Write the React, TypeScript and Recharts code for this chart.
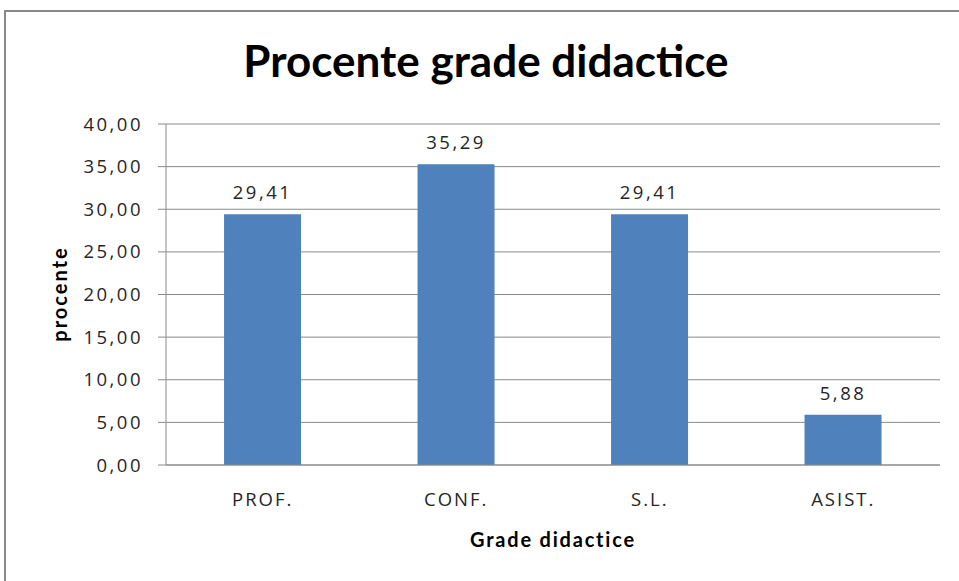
import React from 'react';
import { BarChart, Bar, XAxis, YAxis, CartesianGrid, LabelList } from 'recharts';

const categories = ['PROF.', 'CONF.', 'S.L.', 'ASIST.'];
const values = [29.41, 35.29, 29.41, 5.88];
const yTicks = [0, 5, 10, 15, 20, 25, 30, 35, 40];

const data = categories.map((name, i) => ({ name, value: values[i] }));
const fmt = (v: number) => Number(v).toFixed(2).replace('.', ',');

const FONT = 'Lato, "Open Sans", sans-serif';
const FONT_REG = '"Open Sans", Lato, sans-serif';
const TEXT = '#262626';
const LINE = '#8a8a8a';

export default function App() {
  return (
    <div style={{ position: 'fixed', left: 0, top: 0, width: 959, height: 581, overflow: 'hidden', background: '#fff' }}>
      <div
        style={{
          position: 'absolute',
          left: 4,
          top: 10,
          width: 1000,
          height: 1000,
          border: '2px solid #888',
          boxSizing: 'border-box',
        }}
      />
      <div style={{ position: 'absolute', left: 0, top: 0 }}>
        <BarChart
          width={959}
          height={581}
          data={data}
          margin={{ top: 124, right: 19, left: 0, bottom: 0 }}
          barCategoryGap="30%"
        >
          <text
            x={486}
            y={77}
            textAnchor="middle"
            style={{ fontFamily: FONT, fontWeight: 700, fontSize: 44, fill: '#000' }}
          >
            Procente grade didactice
          </text>
          <CartesianGrid vertical={false} stroke={LINE} strokeWidth={1} />
          <XAxis
            dataKey="name"
            height={116}
            tickLine={false}
            tickSize={0}
            tickMargin={28}
            axisLine={{ stroke: LINE }}
            tick={{ fill: TEXT, fontFamily: FONT_REG, fontSize: 18.5, letterSpacing: 2 }}
            label={{
              value: 'Grade didactice',
              position: 'insideBottom',
              offset: 34,
              fill: '#000',
              style: { fontFamily: FONT, fontWeight: 700, fontSize: 20, letterSpacing: 1.8, fill: '#000' },
            }}
          />
          <YAxis
            width={166}
            domain={[0, 40]}
            ticks={yTicks}
            tickFormatter={fmt}
            tickSize={8}
            tickMargin={15}
            axisLine={{ stroke: LINE }}
            tickLine={{ stroke: LINE }}
            tick={{ fill: TEXT, fontFamily: FONT_REG, fontSize: 18.5, letterSpacing: 2.5 }}
            label={{
              content: () => (
                <text
                  x={59}
                  y={294}
                  transform="rotate(-90 59 294)"
                  textAnchor="middle"
                  dominantBaseline="central"
                  style={{ fontFamily: FONT, fontWeight: 700, fontSize: 20, letterSpacing: 2, fill: '#000' }}
                >
                  procente
                </text>
              ),
            }}
          />
          <Bar dataKey="value" fill="#4F81BD" isAnimationActive={false}>
            <LabelList
              dataKey="value"
              position="top"
              offset={15}
              formatter={(v: any) => fmt(v)}
              style={{ fontFamily: FONT_REG, fontSize: 18.5, letterSpacing: 2.5, fill: TEXT }}
            />
          </Bar>
        </BarChart>
      </div>
    </div>
  );
}
